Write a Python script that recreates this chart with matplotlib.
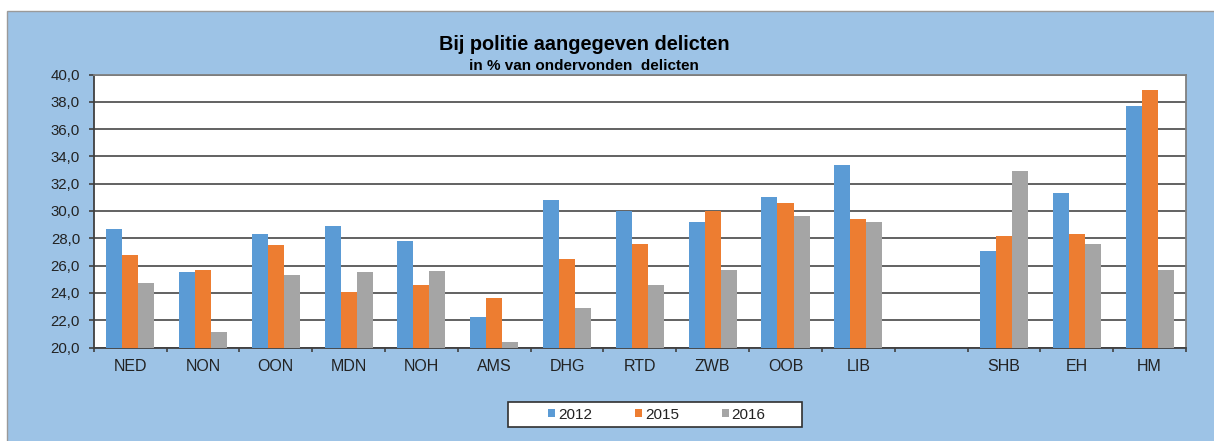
import matplotlib
matplotlib.use("Agg")
import matplotlib.pyplot as plt
import numpy as np
from matplotlib.patches import Rectangle, Patch

plt.rcParams['font.family'] = ['Liberation Sans', 'DejaVu Sans']

categories = ["NED", "NON", "OON", "MDN", "NOH", "AMS", "DHG", "RTD", "ZWB",
              "OOB", "LIB", "", "SHB", "EH", "HM"]
series_names = ["2012", "2015", "2016"]
values_2012 = [28.7, 25.5, 28.3, 28.9, 27.8, 22.2, 30.8, 30.0, 29.2, 31.0, 33.4, np.nan, 27.1, 31.3, 37.7]
values_2015 = [26.8, 25.7, 27.5, 24.1, 24.6, 23.6, 26.5, 27.6, 30.0, 30.6, 29.4, np.nan, 28.2, 28.3, 38.9]
values_2016 = [24.7, 21.1, 25.3, 25.5, 25.6, 20.4, 22.9, 24.6, 25.7, 29.6, 29.2, np.nan, 32.9, 27.6, 25.7]
y_ticks = [20, 22, 24, 26, 28, 30, 32, 34, 36, 38, 40]
title = "Bij politie aangegeven delicten"
subtitle = "in % van ondervonden  delicten"

colors = ["#5B9BD5", "#ED7D31", "#A5A5A5"]
W, H = 1214, 441
fig = plt.figure(figsize=(W / 100, H / 100), dpi=100)
fig.patch.set_facecolor("white")

# chart area background
fig.patches.append(Rectangle((7 / W, -0.02), 1.0, (H - 11) / H + 0.02,
                             transform=fig.transFigure, facecolor="#9DC3E6",
                             edgecolor="#9A9A9A", lw=1.0, zorder=-10))

ax = fig.add_axes([93.7 / W, (H - 347.5) / H, (1186 - 93.7) / W, (347.5 - 74.5) / H])
ax.set_zorder(1)
ax.set_facecolor("white")

x = np.arange(len(categories))
bw = 0.22
series = [values_2012, values_2015, values_2016]
for i, (vals, name, c) in enumerate(zip(series, series_names, colors)):
    vals = np.asarray(vals, dtype=float)
    m = ~np.isnan(vals)
    ax.bar(x[m] + (i - 1) * bw, vals[m], width=bw, color=c, label=name, zorder=3)

ax.set_ylim(20, 40)
ax.set_xlim(-0.5, len(categories) - 0.5)
ax.set_yticks(y_ticks)
ax.set_yticklabels([f"{v:.1f}".replace(".", ",") for v in y_ticks])
ax.yaxis.grid(True, color="#555555", lw=1.3, zorder=1)
ax.set_axisbelow(True)

ax.set_xticks(x)
ax.set_xticklabels(categories)
ax.set_xticks(np.arange(len(categories) + 1) - 0.5, minor=True)
ax.tick_params(axis="x", which="major", length=0, pad=8, labelsize=11.5, labelcolor="#222222")
ax.tick_params(axis="x", which="minor", length=3.2, width=1.2, color="#404040", direction="out")
ax.tick_params(axis="y", which="major", length=3.3, width=1.2, color="#404040",
               pad=6.5, labelsize=10.8, labelcolor="#222222")

for s in ["left", "bottom"]:
    ax.spines[s].set_color("#404040")
    ax.spines[s].set_linewidth(1.3)
for s in ["top", "right"]:
    ax.spines[s].set_color("#808080")
    ax.spines[s].set_linewidth(1.3)

fig.text(584 / W, 1 - 45 / H, title, ha="center", va="center",
         fontsize=14.3, fontweight="bold", color="black")
fig.text(584 / W, 1 - 65.5 / H, subtitle, ha="center", va="center",
         fontsize=11, fontweight="bold", color="black")

# legend frame
fig.patches.append(Rectangle((508 / W, (H - 427) / H), 294 / W, 24.7 / H,
                             transform=fig.transFigure, facecolor="white",
                             edgecolor="#303030", lw=1.2, zorder=1))
handles = [Patch(facecolor=c, edgecolor="none") for c in colors]
leg = fig.legend(handles, series_names, loc="center",
                 bbox_to_anchor=(657 / W, (H - 414.7) / H), bbox_transform=fig.transFigure,
                 ncol=3, frameon=False, fontsize=11, handlelength=0.45, handleheight=0.45,
                 handletextpad=0.2, columnspacing=2.8)
leg.set_zorder(2)
for t in leg.get_texts():
    t.set_color("#222222")

fig.savefig("out.png", dpi=100, facecolor=fig.get_facecolor())
